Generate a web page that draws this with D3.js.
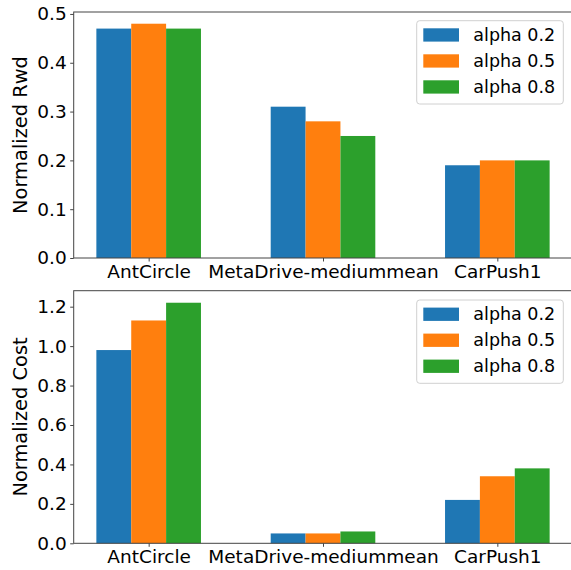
<!DOCTYPE html>
<html>
<head>
<meta charset="utf-8">
<script src="https://cdn.jsdelivr.net/npm/d3@7"></script>
<style>
  body { margin: 0; background: white; }
  svg { display: block; font-family: "DejaVu Sans", sans-serif; }
</style>
</head>
<body>
<script>
// chart data
const categories = ['AntCircle', 'MetaDrive-mediummean', 'CarPush1'];
const seriesNames = ['alpha 0.2', 'alpha 0.5', 'alpha 0.8'];
const seriesColors = ['#1f77b4', '#ff7f0e', '#2ca02c'];
const rwdValues = [
    [0.47, 0.31, 0.19], // alpha 0.2
    [0.48, 0.28, 0.20], // alpha 0.5
    [0.47, 0.25, 0.20]  // alpha 0.8
];
const costValues = [
    [0.98, 0.05, 0.22],
    [1.13, 0.05, 0.34],
    [1.22, 0.06, 0.38]
];
const rwdTicks = [0, 0.1, 0.2, 0.3, 0.4, 0.5];
const costTicks = [0, 0.2, 0.4, 0.6, 0.8, 1.0, 1.2];

const W = 571, H = 570;
const barWidth = 0.2;

const svg = d3.select('body').append('svg')
    .attr('width', W)
    .attr('height', H);

// shared x scale (category index units, like matplotlib)
const xScale = d3.scaleLinear()
    .domain([-0.43, 2.43])
    .range([73.7, 572.3]);

function drawPanel(opts) {
    const { values, ticks, yMax, top, bottom, label, legendTop } = opts;
    const yScale = d3.scaleLinear().domain([0, yMax]).range([bottom, top]);
    const g = svg.append('g');

    // bars
    values.forEach((series, s) => {
        g.selectAll(`.bar-${s}`)
            .data(series)
            .enter().append('rect')
            .attr('class', `bar-${s}`)
            .attr('x', (d, i) => xScale(i + (s - 1) * barWidth - barWidth / 2))
            .attr('width', xScale(barWidth) - xScale(0))
            .attr('y', d => yScale(d))
            .attr('height', d => yScale(0) - yScale(d))
            .attr('fill', seriesColors[s]);
    });

    // frame
    g.append('rect')
        .attr('x', xScale.range()[0])
        .attr('y', top)
        .attr('width', xScale.range()[1] - xScale.range()[0])
        .attr('height', bottom - top)
        .attr('fill', 'none')
        .attr('stroke', '#444')
        .attr('stroke-width', 1);

    // y axis
    const yAxis = g.append('g')
        .attr('transform', `translate(${xScale.range()[0]},0)`)
        .call(d3.axisLeft(yScale).tickValues(ticks).tickFormat(d3.format('.1f'))
            .tickSize(3.5).tickPadding(3.5));
    yAxis.select('.domain').remove();
    yAxis.selectAll('line').attr('stroke', '#444');
    yAxis.selectAll('text')
        .attr('font-family', '"DejaVu Sans", sans-serif')
        .attr('font-size', '18.5px')
        .attr('fill', 'black');

    // x axis
    const xAxis = g.append('g')
        .attr('transform', `translate(0,${bottom})`)
        .call(d3.axisBottom(xScale).tickValues([0, 1, 2]).tickFormat(i => categories[i])
            .tickSize(3.5).tickPadding(3.5));
    xAxis.select('.domain').remove();
    xAxis.selectAll('line').attr('stroke', '#444');
    xAxis.selectAll('text')
        .attr('font-family', '"DejaVu Sans", sans-serif')
        .attr('font-size', '18.5px')
        .attr('fill', 'black');

    // y label
    g.append('text')
        .attr('transform', `translate(27,${(top + bottom) / 2}) rotate(-90)`)
        .attr('text-anchor', 'middle')
        .attr('font-size', '19.4px')
        .attr('fill', 'black')
        .text(label);

    // legend
    const lg = g.append('g').attr('transform', `translate(416.7,${legendTop})`);
    lg.append('rect')
        .attr('width', 146.6)
        .attr('height', 83.3)
        .attr('rx', 3)
        .attr('fill', 'white')
        .attr('fill-opacity', 0.8)
        .attr('stroke', '#d0d0d0')
        .attr('stroke-width', 1);
    seriesNames.forEach((name, s) => {
        lg.append('rect')
            .attr('x', 6.6)
            .attr('y', 7.6 + s * 26)
            .attr('width', 35.7)
            .attr('height', 13.3)
            .attr('fill', seriesColors[s]);
        lg.append('text')
            .attr('x', 56.6)
            .attr('y', 14.3 + s * 26)
            .attr('dominant-baseline', 'central')
            .attr('font-size', '17.5px')
            .attr('fill', 'black')
            .text(name);
    });
}

drawPanel({
    values: rwdValues, ticks: rwdTicks, yMax: 0.504,
    top: 12, bottom: 258, label: 'Normalized Rwd', legendTop: 20.7
});
drawPanel({
    values: costValues, ticks: costTicks, yMax: 1.281,
    top: 290.7, bottom: 543.3, label: 'Normalized Cost', legendTop: 300
});
</script>
</body>
</html>
